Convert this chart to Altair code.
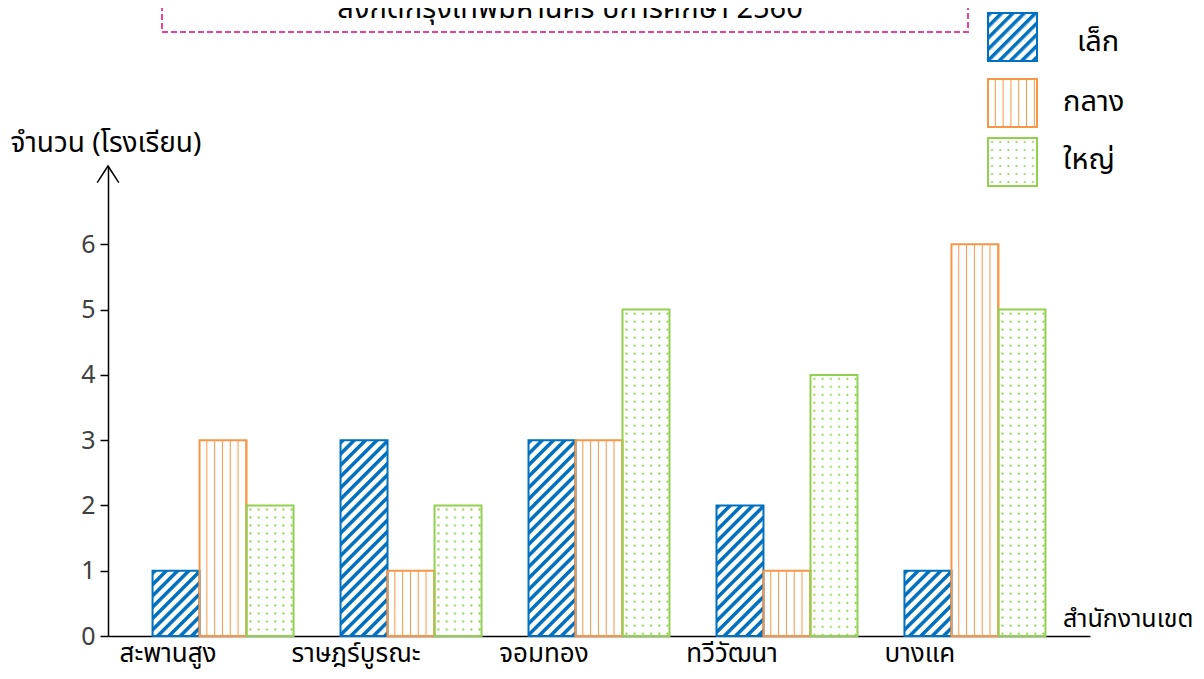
import altair as alt
import pandas as pd
from urllib.parse import quote

# ---------------- data ----------------
districts = ["สะพานสูง", "ราษฎร์บูรณะ", "จอมทอง", "ทวีวัฒนา", "บางแค"]
sizes = ["เล็ก", "กลาง", "ใหญ่"]
small = [1, 3, 3, 2, 1]
medium = [3, 1, 3, 1, 6]
large = [2, 2, 5, 4, 5]
y_ticks = [0, 1, 2, 3, 4, 5, 6]

title_text = "สังกัดกรุงเทพมหานคร  ปีการศึกษา  2560"
y_title = "จำนวน (โรงเรียน)"
x_title = "สำนักงานเขต"

# ---------------- styles ----------------
FONT = "Tahoma, 'Noto Sans Thai', 'Noto Sans', sans-serif"
BLUE = "#0070C0"
ORANGE = "#F79646"
GREEN = "#92D050"
PINK = "#EE3F9A"


def svg_uri(inner):
    svg = ("<svg xmlns='http://www.w3.org/2000/svg' width='100%' height='100%'>"
           + inner + "</svg>")
    return "data:image/svg+xml," + quote(svg)


BG = "<rect width='100%' height='100%' fill='#ffffff'/>"
FILL = "<rect width='100%' height='100%' fill='url(#p)'/>"
pattern_diag = svg_uri(
    "<defs><pattern id='p' width='8' height='8' patternUnits='userSpaceOnUse' "
    "patternTransform='rotate(45)'><rect x='0' y='0' width='3.5' height='8' "
    f"fill='{BLUE}'/></pattern></defs>" + BG + FILL)
pattern_vert = svg_uri(
    "<defs><pattern id='p' width='7.8' height='10' patternUnits='userSpaceOnUse'>"
    f"<rect x='6.8' y='0' width='2' height='10' fill='{ORANGE}'/></pattern></defs>"
    + BG + FILL)
pattern_dots = svg_uri(
    "<defs><pattern id='p' width='8.2' height='8' patternUnits='userSpaceOnUse'>"
    f"<circle cx='4' cy='4' r='1.1' fill='{GREEN}'/></pattern></defs>" + BG + FILL)

patterns = {"เล็ก": pattern_diag, "กลาง": pattern_vert, "ใหญ่": pattern_dots}
colors = [BLUE, ORANGE, GREEN]

rows = []
for series, vals in zip(sizes, [small, medium, large]):
    for d, v in zip(districts, vals):
        rows.append({"district": d, "size": series, "value": v, "url": patterns[series]})
df = pd.DataFrame(rows)

# ---------------- main bars ----------------
base = alt.Chart(df).encode(
    x=alt.X(
        "district:N", sort=districts,
        scale=alt.Scale(paddingInner=0.25, paddingOuter=0.237),
        axis=alt.Axis(title=None, labelAngle=0, ticks=False, domainColor="#000000",
                      domainWidth=1.5, labelFontSize=26, labelColor="#000000",
                      labelPadding=4, labelOffset=-55, labelFont=FONT),
    ),
    xOffset=alt.XOffset("size:N", sort=sizes),
    y=alt.Y(
        "value:Q", scale=alt.Scale(domain=[0, 7.2], nice=False),
        axis=alt.Axis(values=y_ticks, grid=False, domainColor="#000000", domainWidth=1.5,
                      tickColor="#000000", tickSize=8, tickWidth=1.5, labelFontSize=25,
                      labelColor="#404040", labelPadding=5, labelFont=FONT,
                      title=y_title, titleAngle=0, titleAlign="left", titleBaseline="middle",
                      titleX=-98, titleY=-23, titleFontSize=28, titleFontWeight="normal",
                      titleColor="#000000", titleFont=FONT),
    ),
)

bars_fill = base.mark_image(aspect=False).encode(url="url:N")
bars_outline = base.mark_bar(fillOpacity=0, strokeWidth=2).encode(
    stroke=alt.Stroke("size:N", scale=alt.Scale(domain=sizes, range=colors), legend=None)
)

one = pd.DataFrame({"k": [0]})
deco = alt.Chart(one)

arrow = deco.mark_point(shape="M-0.65,1L0,0L0.65,1", filled=False, size=1100,
                        stroke="#000000", strokeWidth=1.5, opacity=1).encode(
    x=alt.value(0), y=alt.value(0))

x_label = deco.mark_text(text=x_title, align="left", baseline="middle", fontSize=25,
                         font=FONT, color="#000000").encode(
    x=alt.value(955), y=alt.value(453))

title_box = deco.mark_rect(fillOpacity=0, stroke=PINK, strokeWidth=2,
                           strokeDash=[6, 3]).encode(
    x=alt.value(54), x2=alt.value(860), y=alt.value(-220), y2=alt.value(-134))

title = deco.mark_text(text=title_text, align="center", baseline="alphabetic",
                       fontSize=29, font=FONT, color="#000000").encode(
    x=alt.value(462), y=alt.value(-148))

legend_layers = []
box_tops = [-153, -87, -28]
label_pos = [(969, -124), (955, -64), (955, -6)]
for series, col, top, (lx, ly) in zip(sizes, colors, box_tops, label_pos):
    legend_layers.append(deco.mark_image(aspect=False).encode(
        x=alt.value(880), x2=alt.value(929), y=alt.value(top), y2=alt.value(top + 48),
        url=alt.value(patterns[series])))
    legend_layers.append(deco.mark_rect(fillOpacity=0, stroke=col, strokeWidth=2).encode(
        x=alt.value(880), x2=alt.value(929), y=alt.value(top), y2=alt.value(top + 48)))
    legend_layers.append(deco.mark_text(text=series, align="left", baseline="middle",
                                        fontSize=29, font=FONT, color="#000000").encode(
        x=alt.value(lx), y=alt.value(ly)))

chart = alt.layer(
    bars_fill, bars_outline, arrow, x_label, title_box, title, *legend_layers
).properties(
    width=982, height=470,
    autosize=alt.AutoSizeParams(type="none"),
    padding={"left": 100, "top": 158, "right": 106, "bottom": 35},
).configure(font=FONT).configure_view(stroke=None)

chart.save("out.html", embed_options={"renderer": "svg", "actions": False})
